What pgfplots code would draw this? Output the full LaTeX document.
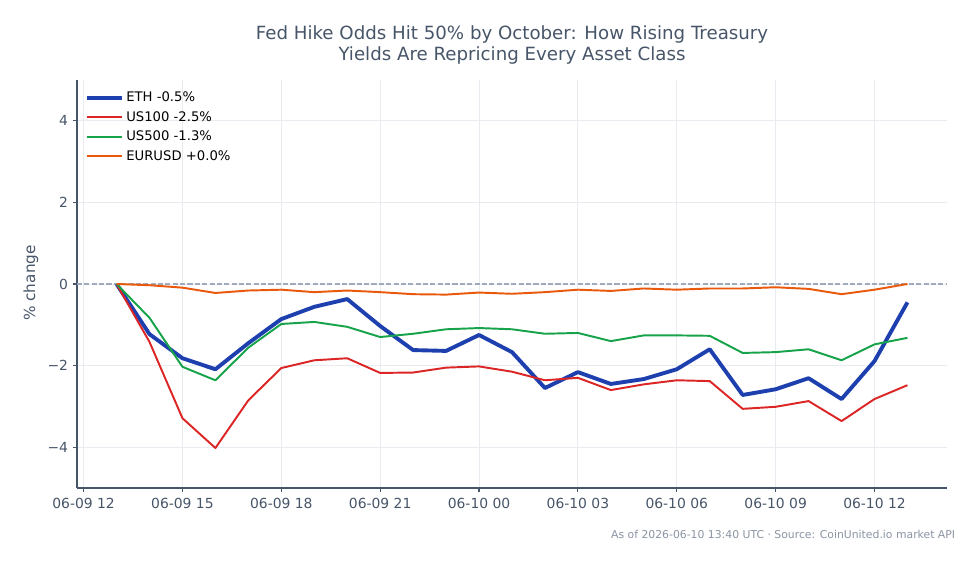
\documentclass[border=0pt]{standalone}
\usepackage{fontspec}
\setmainfont{DejaVu Sans}
\usepackage{pgfplots}
\usepackage{pgfplotstable}
\pgfplotsset{compat=1.18}

\definecolor{ethblue}{HTML}{1E40AF}
\definecolor{nasred}{HTML}{DC2626}
\definecolor{spgreen}{HTML}{16A34A}
\definecolor{fxorange}{HTML}{EA580C}
\definecolor{inkgray}{HTML}{475569}
\definecolor{gridgray}{HTML}{E8EBEF}
\definecolor{zerogray}{HTML}{9FAABB}
\definecolor{notegray}{HTML}{8A94A3}

% hours since 06-09 12:00 UTC, % change since the first hourly close
\pgfplotstableread{
h   eth    us100  us500  eurusd
1   0.00   0.00   0.00   0.00
2  -1.23  -1.42  -0.83  -0.03
3  -1.82  -3.29  -2.03  -0.09
4  -2.09  -4.02  -2.36  -0.22
5  -1.45  -2.85  -1.56  -0.16
6  -0.86  -2.06  -0.98  -0.14
7  -0.56  -1.87  -0.93  -0.20
8  -0.37  -1.82  -1.05  -0.16
9  -1.03  -2.18  -1.30  -0.20
10 -1.62  -2.17  -1.22  -0.25
11 -1.64  -2.05  -1.11  -0.26
12 -1.25  -2.02  -1.08  -0.21
13 -1.67  -2.15  -1.11  -0.24
14 -2.55  -2.36  -1.22  -0.20
15 -2.16  -2.30  -1.20  -0.14
16 -2.45  -2.60  -1.40  -0.17
17 -2.33  -2.46  -1.26  -0.11
18 -2.09  -2.36  -1.26  -0.14
19 -1.60  -2.38  -1.27  -0.11
20 -2.72  -3.06  -1.69  -0.11
21 -2.58  -3.01  -1.67  -0.08
22 -2.31  -2.87  -1.60  -0.12
23 -2.82  -3.36  -1.87  -0.25
24 -1.89  -2.82  -1.48  -0.14
25 -0.45  -2.48  -1.32   0.00
}\moves

\begin{document}
\begin{tikzpicture}[x=0.72pt,y=0.72pt]
\useasboundingbox (0,0) rectangle (979,564);
\begin{axis}[
  at={(55.44pt,54.72pt)}, anchor=south west,
  scale only axis, width=626.4pt, height=293.76pt,
  xmin=-0.2, xmax=26.2, ymin=-5, ymax=5,
  axis x line*=bottom, axis y line*=left,
  axis line style={color=inkgray, line width=0.8pt},
  xtick={0,3,...,24},
  xticklabels={06-09 12,06-09 15,06-09 18,06-09 21,06-10 00,06-10 03,06-10 06,06-10 09,06-10 12},
  ytick={-4,-2,0,2,4},
  yticklabels={−4,−2,0,2,4},
  tick align=outside, major tick length=2.9pt,
  tick style={color=inkgray, line width=0.8pt},
  ticklabel style={font=\fontsize{10}{12}\selectfont, color=inkgray},
  xticklabel style={yshift=-1pt},
  grid=major, major grid style={color=gridgray, line width=0.6pt},
  legend style={at={(rel axis cs:0.004,0.985)}, anchor=north west, draw=none, fill=none,
    font=\fontsize{9.5}{11}\selectfont, row sep=1.5pt, text=black},
  legend cell align=left,
  legend image code/.code={\draw[#1] (0pt,0pt) -- (21.6pt,0pt); \path (0pt,0pt) -- (25pt,0pt);},
  clip=false,
]
\addplot[zerogray, dash pattern=on 3.7pt off 1.6pt, line width=0.8pt, forget plot] coordinates {(-0.2,0) (26.2,0)};
\addplot[ethblue, line width=2.8pt, line join=round] table[x=h, y=eth] {\moves};
\addlegendentry{ETH -0.5\%}
\addplot[nasred, line width=1.4pt, line join=round] table[x=h, y=us100] {\moves};
\addlegendentry{US100 -2.5\%}
\addplot[spgreen, line width=1.4pt, line join=round] table[x=h, y=us500] {\moves};
\addlegendentry{US500 -1.3\%}
\addplot[fxorange, line width=1.4pt, line join=round] table[x=h, y=eurusd] {\moves};
\addlegendentry{EURUSD +0.0\%}
\end{axis}
\node[color=inkgray, font=\fontsize{13.1}{15}\selectfont] at (512,530) {Fed Hike Odds Hit 50\% by October: How Rising Treasury};
\node[color=inkgray, font=\fontsize{13.1}{15}\selectfont] at (512,509) {Yields Are Repricing Every Asset Class};
\node[color=inkgray, rotate=90, font=\fontsize{11}{13}\selectfont] at (31,281) {\% change};
\node[color=notegray, anchor=east, font=\fontsize{7.8}{10}\selectfont] at (960,30) {As of 2026-06-10 13:40 UTC · Source: CoinUnited.io market API};
\end{tikzpicture}
\end{document}
